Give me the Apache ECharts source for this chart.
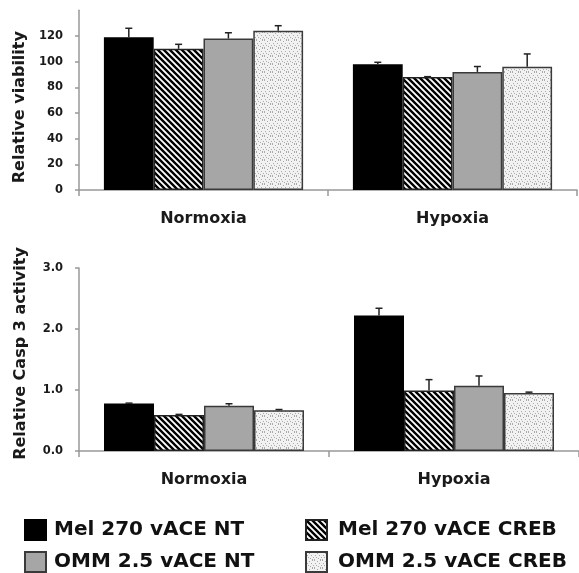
<!DOCTYPE html>
<html>
<head>
<meta charset="utf-8">
<script src="https://cdn.jsdelivr.net/npm/echarts@6/dist/echarts.min.js"></script>
<style>
html,body{margin:0;padding:0;background:#fff;}
#chart{width:579px;height:573px;}
</style>
</head>
<body>
<div id="chart"></div>
<script>
// ---- data ----
const categories = ['Normoxia', 'Hypoxia'];
const seriesNames = ['Mel 270 vACE NT', 'Mel 270 vACE CREB', 'OMM 2.5 vACE NT', 'OMM 2.5 vACE CREB'];
// Relative viability (top panel), per series: [Normoxia, Hypoxia]
const viabMel270NT   = [119, 98];
const viabMel270CREB = [110, 88];
const viabOMMNT      = [118, 92];
const viabOMMCREB    = [124, 96];
const viabErrMel270NT   = [7, 1.5];
const viabErrMel270CREB = [3.5, 0.3];
const viabErrOMMNT      = [4.5, 4.2];
const viabErrOMMCREB    = [4, 10];
// Relative Casp 3 activity (bottom panel)
const caspMel270NT   = [0.78, 2.22];
const caspMel270CREB = [0.59, 0.99];
const caspOMMNT      = [0.74, 1.07];
const caspOMMCREB    = [0.67, 0.95];
const caspErrMel270NT   = [0.005, 0.12];
const caspErrMel270CREB = [0.01, 0.18];
const caspErrOMMNT      = [0.035, 0.16];
const caspErrOMMCREB    = [0.01, 0.015];
const viabTicks = [0, 20, 40, 60, 80, 100, 120];
const caspTicks = ['0.0', '1.0', '2.0', '3.0'];

// ---- patterns ----
function stripeTile() {
  const s = 6, c = document.createElement('canvas');
  c.width = s; c.height = s;
  const g = c.getContext('2d');
  g.fillStyle = '#fff'; g.fillRect(0, 0, s, s);
  g.strokeStyle = '#000'; g.lineWidth = 2.4;
  g.beginPath();
  g.moveTo(-s, -s); g.lineTo(2 * s, 2 * s);
  g.moveTo(-s, 0); g.lineTo(s, 2 * s);
  g.moveTo(0, -s); g.lineTo(2 * s, s);
  g.stroke();
  return c;
}
function dotTile() {
  const s = 8, c = document.createElement('canvas');
  c.width = s; c.height = s;
  const g = c.getContext('2d');
  g.fillStyle = '#f2f2f2'; g.fillRect(0, 0, s, s);
  g.fillStyle = '#aaaaaa';
  const pts = [[0,0],[3,1],[6,0],[1,3],[5,3],[2,5],[7,5],[4,6],[0,7],[6,7]];
  pts.forEach(p => g.fillRect(p[0], p[1], 1, 1));
  return c;
}
const stripe = {image: stripeTile(), repeat: 'repeat'};
const dots = {image: dotTile(), repeat: 'repeat'};
const fills = ['#000000', stripe, '#a6a6a6', dots];
const borders = ['#000000', '#222222', '#3a3a3a', '#3a3a3a'];

const FONT = 'DejaVu Sans';
const chart = echarts.init(document.getElementById('chart'));

const viabVals = [viabMel270NT, viabMel270CREB, viabOMMNT, viabOMMCREB];
const viabErrs = [viabErrMel270NT, viabErrMel270CREB, viabErrOMMNT, viabErrOMMCREB];
const caspVals = [caspMel270NT, caspMel270CREB, caspOMMNT, caspOMMCREB];
const caspErrs = [caspErrMel270NT, caspErrMel270CREB, caspErrOMMNT, caspErrOMMCREB];

function barSeries(vals, axisIdx) {
  return vals.map((v, k) => ({
    name: seriesNames[k], type: 'bar', xAxisIndex: axisIdx, yAxisIndex: axisIdx,
    data: v, barGap: '0%', barCategoryGap: '20%',
    itemStyle: {color: fills[k], borderColor: borders[k], borderWidth: 1.5},
    emphasis: {disabled: true}, z: 2
  }));
}
function errData(vals, errs) {
  const out = [];
  vals.forEach((v, k) => v.forEach((val, c) => out.push([c, val, errs[k][c], k])));
  return out;
}
function errSeries(vals, errs, axisIdx) {
  return {
    type: 'custom', xAxisIndex: axisIdx, yAxisIndex: axisIdx, z: 5, silent: true,
    data: errData(vals, errs),
    renderItem: function (params, api) {
      const c = api.value(0), v = api.value(1), e = api.value(2), k = api.value(3);
      const band = api.size([1, 0])[0];
      const x = api.coord([c, 0])[0] + band * (-0.3 + 0.2 * k);
      const y0 = api.coord([c, v])[1];
      const y1 = api.coord([c, v + e])[1];
      const st = {stroke: '#222', lineWidth: 1.5};
      return {type: 'group', children: [
        {type: 'line', shape: {x1: x, y1: y0, x2: x, y2: y1}, style: st},
        {type: 'line', shape: {x1: x - 3.5, y1: y1, x2: x + 3.5, y2: y1}, style: st}
      ]};
    }
  };
}

const axisLine = {show: true, lineStyle: {color: '#999999', width: 1.5}};
const catAxis = (gi) => ({
  type: 'category', gridIndex: gi, data: categories,
  axisLine: axisLine,
  axisTick: {show: true, alignWithLabel: false, length: 6, lineStyle: {color: '#999999', width: 1.5}},
  axisLabel: {fontFamily: FONT, fontWeight: 'bold', fontSize: 16, color: '#1a1a1a', margin: 21},
  splitLine: {show: false}
});

function legendItem(k, left, top, pad) {
  return {
    data: [seriesNames[k]], left: left, top: top,
    itemWidth: 21, itemHeight: 20, icon: 'rect', selectedMode: false,
    textStyle: {fontFamily: FONT, fontWeight: 'bold', fontSize: 20, color: '#111', padding: [0, 0, 0, pad]}
  };
}

const option = {
  animation: false,
  backgroundColor: '#fff',
  textStyle: {fontFamily: FONT},
  grid: [
    {left: 79, right: 2, top: 10.3, height: 179.7},
    {left: 79, right: -8, top: 268, height: 183}
  ],
  xAxis: [catAxis(0), catAxis(1)],
  yAxis: [
    {type: 'value', gridIndex: 0, min: 0, max: 140, interval: 20,
     axisLine: axisLine, axisTick: {show: true, length: 4, lineStyle: {color: '#999999', width: 1.5}},
     splitLine: {show: false},
     axisLabel: {fontFamily: FONT, fontWeight: 'bold', fontSize: 11.5, color: '#1a1a1a', margin: 16, showMaxLabel: false,
       formatter: function (val) { return viabTicks.indexOf(val) >= 0 ? String(val) : ''; }},
     name: 'Relative viability', nameLocation: 'middle', nameGap: 50, nameRotate: 90,
     nameTextStyle: {fontFamily: FONT, fontWeight: 'bold', fontSize: 16, color: '#1a1a1a', padding: [0, 0, 0, -14]}},
    {type: 'value', gridIndex: 1, min: 0, max: 3, interval: 1,
     axisLine: axisLine, axisTick: {show: true, length: 4, lineStyle: {color: '#999999', width: 1.5}},
     splitLine: {show: false},
     axisLabel: {fontFamily: FONT, fontWeight: 'bold', fontSize: 11.5, color: '#1a1a1a', margin: 16,
       formatter: function (val) { return caspTicks[Math.round(val)]; }},
     name: 'Relative Casp 3 activity', nameLocation: 'middle', nameGap: 50, nameRotate: 90,
     nameTextStyle: {fontFamily: FONT, fontWeight: 'bold', fontSize: 16, color: '#1a1a1a', padding: [0, 0, 0, 12]}}
  ],
  legend: [
    legendItem(0, 19, 514, 3),
    legendItem(2, 19, 546, 3),
    legendItem(1, 300, 514, 6),
    legendItem(3, 300, 546, 6)
  ],
  series: [].concat(
    barSeries(viabVals, 0),
    barSeries(caspVals, 1),
    [errSeries(viabVals, viabErrs, 0), errSeries(caspVals, caspErrs, 1)]
  )
};
chart.setOption(option);
</script>
</body>
</html>
